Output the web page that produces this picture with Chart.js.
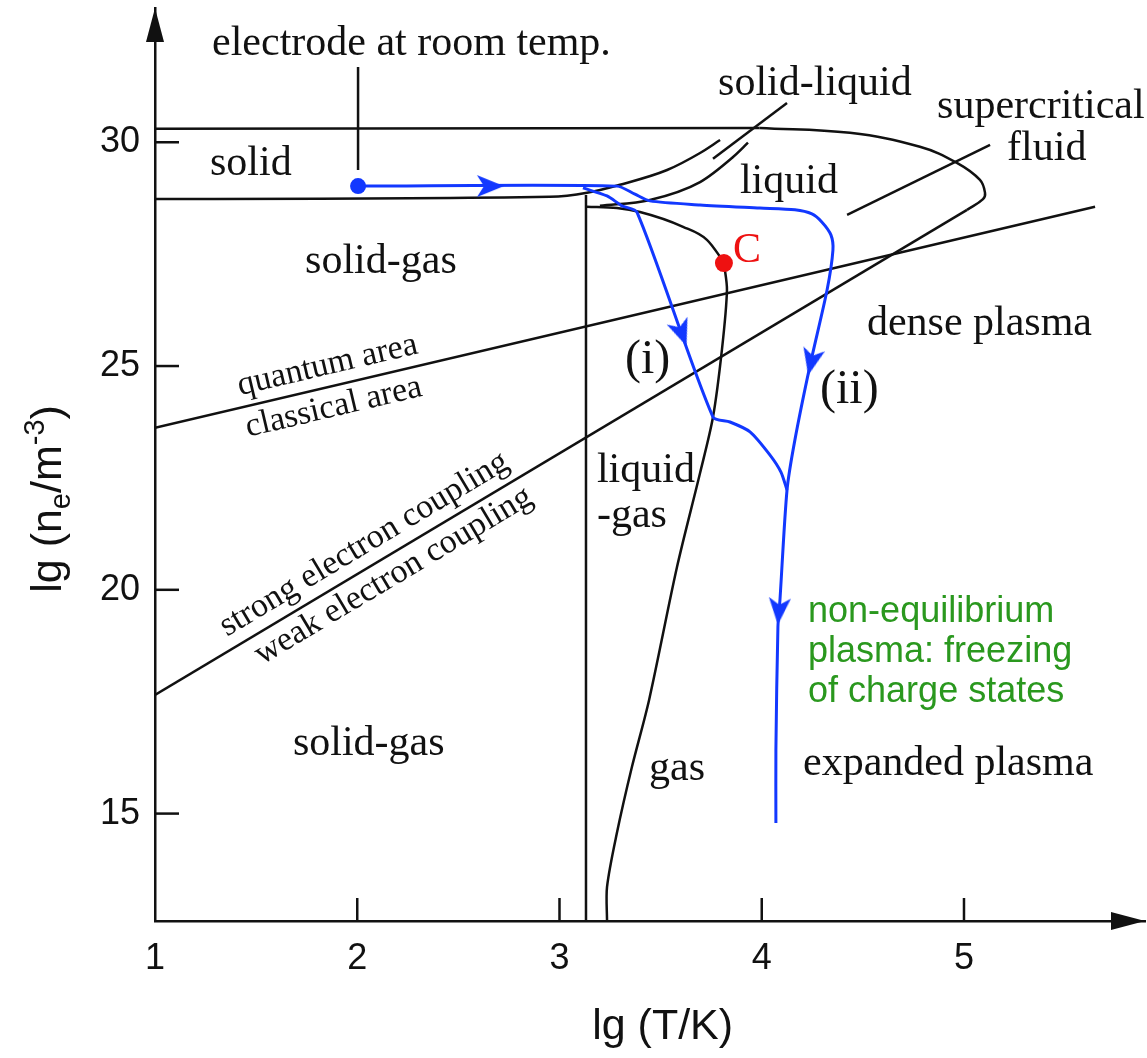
<!DOCTYPE html>
<html>
<head>
<meta charset="utf-8">
<script src="https://cdn.jsdelivr.net/npm/chart.js@4.4.1/dist/chart.umd.min.js"></script>
<style>
  html, body { margin: 0; padding: 0; background: #fff; }
  #wrap { width: 1147px; height: 1058px; }
</style>
</head>
<body>
<div id="wrap"><canvas id="phaseChart" width="1147" height="1058"></canvas></div>
<script>
// axis ticks
const xTicks = [1, 2, 3, 4, 5];
const yTicks = [15, 20, 25, 30];

// phase boundaries as [lg T, lg ne]
const solidTop = [[1.0, 30.30], [3.99, 30.32]];
const fluidNose = [[3.99, 30.32], [4.436, 30.21], [4.782, 29.90], [4.965, 29.54], [5.079, 29.16], [5.104, 28.87], [5.094, 28.73], [5.015, 28.49]];
const couplingLine = [[5.015, 28.49], [1.0, 17.65]];
const quantumLine = [[1.0, 23.62], [5.648, 28.56]];
const solidBottom = [[1.0, 28.73], [2.953, 28.78], [3.136, 28.87], [3.299, 29.05], [3.532, 29.38], [3.695, 29.76], [3.794, 30.05]];
const meltLower = [[3.2, 28.58], [3.447, 28.71], [3.695, 29.11], [3.858, 29.67], [3.932, 29.99]];
const boilDome = [[3.136, 28.56], [3.284, 28.53], [3.398, 28.44], [3.611, 28.11], [3.729, 27.82], [3.794, 27.44], [3.813, 27.30]];
const gasBranch = [[3.813, 27.30], [3.828, 26.70], [3.803, 25.36], [3.759, 23.86], [3.695, 22.61], [3.581, 20.51], [3.443, 17.54], [3.358, 16.04], [3.284, 14.57], [3.235, 13.36], [3.235, 12.6]];
const sublimLine = [[3.131, 28.82], [3.131, 12.6]];
const electrodeTick = [[2.004, 31.68], [2.004, 29.38]];
const meltPointer = [[3.759, 29.63], [4.125, 30.88]];
const fluidPointer = [[4.422, 28.38], [5.129, 29.94]];

// heating paths (blue)
const pathTwo = [[2.004, 29.02], [3.284, 29.02], [3.373, 28.84], [3.447, 28.69], [3.695, 28.60], [3.991, 28.53], [4.164, 28.49], [4.248, 28.40], [4.297, 28.22], [4.342, 27.93], [4.352, 27.59], [4.323, 26.70], [4.239, 25.02], [4.164, 23.35], [4.125, 22.23], [4.090, 19.77], [4.080, 19.17], [4.070, 16.42], [4.070, 14.79]];
const pathOne = [[3.116, 28.98], [3.235, 28.80], [3.309, 28.58], [3.383, 28.44], [3.759, 23.86], [3.843, 23.75], [3.942, 23.53], [4.041, 23.01], [4.095, 22.63], [4.125, 22.23]];
const arrowPts = [[2.656, 29.02], [3.604, 25.74], [4.245, 25.10], [4.085, 19.53]];
const arrowPaths = [pathTwo, pathOne, pathTwo, pathTwo];
const startPoint = [[2.004, 29.02]];
const criticalPoint = [[3.813, 27.30]];

const BLACK = '#111111';
const BLUE = '#1238ff';
const RED = '#ee1111';
const GREEN = '#2a981e';
const SERIF = '"Liberation Serif", "Times New Roman", serif';
const SANS = '"Liberation Sans", Arial, sans-serif';

const toXY = arr => arr.map(p => ({ x: p[0], y: p[1] }));

function makeArrowHead() {
  const c = document.createElement('canvas');
  c.width = 30; c.height = 30;
  const g = c.getContext('2d');
  g.fillStyle = BLUE;
  g.beginPath();
  g.moveTo(29, 15); g.lineTo(2, 4); g.lineTo(9, 15); g.lineTo(2, 26);
  g.closePath();
  g.fill();
  return c;
}

// direction of the path under each arrow, in pixel space
function arrowAngle(context) {
  const chart = context.chart;
  const xs = chart.scales.x, ys = chart.scales.y;
  const i = context.dataIndex;
  const path = arrowPaths[i];
  const ax = xs.getPixelForValue(arrowPts[i][0]), ay = ys.getPixelForValue(arrowPts[i][1]);
  let best = Infinity, ang = 0;
  for (let k = 0; k < path.length - 1; k++) {
    const x0 = xs.getPixelForValue(path[k][0]), y0 = ys.getPixelForValue(path[k][1]);
    const x1 = xs.getPixelForValue(path[k + 1][0]), y1 = ys.getPixelForValue(path[k + 1][1]);
    const dx = x1 - x0, dy = y1 - y0;
    const len2 = dx * dx + dy * dy || 1;
    let t = ((ax - x0) * dx + (ay - y0) * dy) / len2;
    t = Math.max(0, Math.min(1, t));
    const d = Math.hypot(x0 + t * dx - ax, y0 + t * dy - ay);
    if (d < best) { best = d; ang = Math.atan2(dy, dx); }
  }
  return ang * 180 / Math.PI;
}

const blackLine = (data, extra) => Object.assign({
  data: toXY(data), showLine: true, pointRadius: 0, borderColor: BLACK,
  borderWidth: 2.5, tension: 0, fill: false
}, extra || {});

const blueLine = (data) => ({
  data: toXY(data), showLine: true, pointRadius: 0, borderColor: BLUE,
  borderWidth: 3, tension: 0.25, fill: false
});

const datasets = [
  { data: toXY(criticalPoint), pointRadius: 9, pointBackgroundColor: RED, pointBorderWidth: 0 },
  { data: toXY(startPoint), pointRadius: 8, pointBackgroundColor: BLUE, pointBorderWidth: 0 },
  { data: toXY(arrowPts), pointRadius: 10, pointStyle: makeArrowHead(), pointRotation: arrowAngle },
  blueLine(pathTwo),
  blueLine(pathOne),
  blackLine(solidTop),
  blackLine(fluidNose, { tension: 0.4 }),
  blackLine(couplingLine),
  blackLine(quantumLine),
  blackLine(solidBottom, { cubicInterpolationMode: 'monotone' }),
  blackLine(meltLower, { cubicInterpolationMode: 'monotone' }),
  blackLine(boilDome, { cubicInterpolationMode: 'monotone' }),
  blackLine(gasBranch, { tension: 0.3 }),
  blackLine(sublimLine),
  blackLine(electrodeTick),
  blackLine(meltPointer),
  blackLine(fluidPointer)
];

const regionLabels = [
  { t: 'electrode at room temp.', x: 1.282, y: 31.95 },
  { t: 'solid', x: 1.272, y: 29.27 },
  { t: 'solid-liquid', x: 3.784, y: 31.06 },
  { t: 'supercritical', x: 4.867, y: 30.54 },
  { t: 'fluid', x: 5.213, y: 29.61 },
  { t: 'liquid', x: 3.892, y: 28.87 },
  { t: 'solid-gas', x: 1.742, y: 27.08 },
  { t: 'dense plasma', x: 4.520, y: 25.70 },
  { t: 'liquid', x: 3.185, y: 22.41 },
  { t: '-gas', x: 3.185, y: 21.40 },
  { t: 'solid-gas', x: 1.682, y: 16.31 },
  { t: 'gas', x: 3.443, y: 15.75 },
  { t: 'expanded plasma', x: 4.204, y: 15.86 }
];
const pathLabels = [
  { t: '(i)', x: 3.324, y: 24.85 },
  { t: '(ii)', x: 4.288, y: 24.18 }
];
const greenLines = ['non-equilibrium', 'plasma: freezing', 'of charge states'];
const greenY = [19.28, 18.39, 17.49];

const annotate = {
  id: 'annotate',
  afterDraw(chart) {
    const { ctx, chartArea: a, scales: { x, y } } = chart;
    const px = v => x.getPixelForValue(v);
    const py = v => y.getPixelForValue(v);
    ctx.save();

    // inward tick marks
    ctx.strokeStyle = BLACK;
    ctx.lineWidth = 2.5;
    yTicks.forEach(v => {
      ctx.beginPath(); ctx.moveTo(a.left, py(v)); ctx.lineTo(a.left + 24, py(v)); ctx.stroke();
    });
    xTicks.slice(1).forEach(v => {
      ctx.beginPath(); ctx.moveTo(px(v), a.bottom); ctx.lineTo(px(v), a.bottom - 23); ctx.stroke();
    });

    // axis arrow heads
    ctx.fillStyle = BLACK;
    ctx.beginPath();
    ctx.moveTo(a.left, a.top); ctx.lineTo(a.left - 9, a.top + 34); ctx.lineTo(a.left + 9, a.top + 34);
    ctx.closePath(); ctx.fill();
    ctx.beginPath();
    ctx.moveTo(a.right, a.bottom); ctx.lineTo(a.right - 34, a.bottom - 9); ctx.lineTo(a.right - 34, a.bottom + 9);
    ctx.closePath(); ctx.fill();

    const put = (txt, vx, vy, font, color, angle) => {
      ctx.save();
      ctx.translate(px(vx), py(vy));
      if (angle) ctx.rotate(angle);
      ctx.font = font;
      ctx.fillStyle = color;
      ctx.textAlign = 'left';
      ctx.textBaseline = 'alphabetic';
      ctx.fillText(txt, 0, 0);
      ctx.restore();
    };

    regionLabels.forEach(l => put(l.t, l.x, l.y, '42px ' + SERIF, BLACK));
    pathLabels.forEach(l => put(l.t, l.x, l.y, '48px ' + SERIF, BLACK));
    put('C', 3.858, 27.33, '42px ' + SERIF, RED);
    greenLines.forEach((t, i) => put(t, 4.229, greenY[i], '36px ' + SANS, GREEN));

    // labels along the two boundary lines
    const slope = line => Math.atan2(py(line[1][1]) - py(line[0][1]), px(line[1][0]) - px(line[0][0]));
    const qa = slope(quantumLine);
    let ca = slope(couplingLine);
    if (ca > Math.PI / 2) ca -= Math.PI; else if (ca < -Math.PI / 2) ca += Math.PI;
    put('quantum area', 1.420, 24.35, '34px ' + SERIF, BLACK, qa);
    put('classical area', 1.460, 23.42, '34px ' + SERIF, BLACK, qa);
    put('strong electron coupling', 1.356, 18.95, '34px ' + SERIF, BLACK, ca);
    put('weak electron coupling', 1.529, 18.32, '34px ' + SERIF, BLACK, ca);

    // axis titles
    ctx.fillStyle = BLACK;
    ctx.textBaseline = 'alphabetic';
    ctx.font = '43px ' + SANS;
    ctx.textAlign = 'center';
    ctx.fillText('lg (T/K)', px(3.51), a.bottom + 118);

    const big = '43px ' + SANS, small = '29px ' + SANS;
    const parts = [
      { s: 'lg (n', f: big, dy: 0 },
      { s: 'e', f: small, dy: 9 },
      { s: '/m', f: big, dy: 0 },
      { s: '-3', f: small, dy: -17 },
      { s: ')', f: big, dy: 0 }
    ];
    let total = 0;
    parts.forEach(p => { ctx.font = p.f; p.w = ctx.measureText(p.s).width; total += p.w; });
    ctx.save();
    ctx.translate(61, py(22.03));
    ctx.rotate(-Math.PI / 2);
    ctx.textAlign = 'left';
    let cx = -total / 2;
    parts.forEach(p => { ctx.font = p.f; ctx.fillText(p.s, cx, p.dy); cx += p.w; });
    ctx.restore();

    ctx.restore();
  }
};

// no extra room for half tick labels at the axis ends
const noEdgePadding = s => {
  s.paddingTop = 0; s.paddingBottom = 0; s.paddingLeft = 0; s.paddingRight = 0;
};

new Chart(document.getElementById('phaseChart'), {
  type: 'scatter',
  data: { datasets: datasets },
  options: {
    responsive: false,
    animation: false,
    devicePixelRatio: 1,
    layout: { autoPadding: false, padding: { top: 8, right: 2, left: 0, bottom: 0 } },
    plugins: { legend: { display: false }, tooltip: { enabled: false } },
    scales: {
      x: {
        type: 'linear', min: 1, max: 5.895,
        grid: { display: true, drawOnChartArea: false, drawTicks: false },
        border: { display: true, color: BLACK, width: 2.5 },
        ticks: { font: { family: SANS, size: 36 }, color: BLACK, padding: 16, maxRotation: 0, autoSkip: false },
        afterBuildTicks: s => { s.ticks = xTicks.map(v => ({ value: v })); },
        afterFit: s => { s.height = 137; noEdgePadding(s); }
      },
      y: {
        type: 'linear', min: 12.6, max: 33,
        grid: { display: true, drawOnChartArea: false, drawTicks: false },
        border: { display: true, color: BLACK, width: 2.5 },
        ticks: { font: { family: SANS, size: 36 }, color: BLACK, padding: 15, autoSkip: false },
        afterBuildTicks: s => { s.ticks = yTicks.map(v => ({ value: v })); },
        afterFit: s => { s.width = 155; noEdgePadding(s); }
      }
    }
  },
  plugins: [annotate]
});
</script>
</body>
</html>
